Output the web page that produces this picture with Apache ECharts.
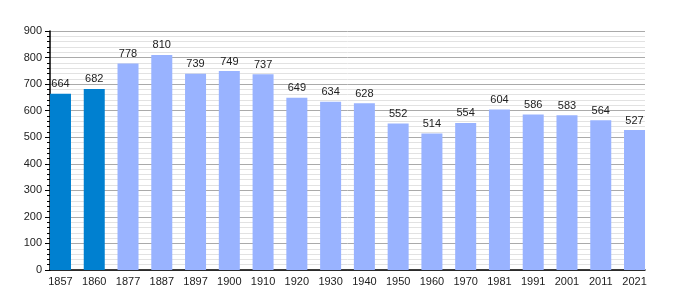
<!DOCTYPE html>
<html><head><meta charset="utf-8">
<script src="https://cdn.jsdelivr.net/npm/echarts@6/dist/echarts.min.js"></script>
<style>html,body{margin:0;padding:0;background:#fff}#c{width:675px;height:300px}</style>
</head><body><div id="c"></div>
<script>
const years = ['1857','1860','1877','1887','1897','1900','1910','1920','1930','1940','1950','1960','1970','1981','1991','2001','2011','2021'];
const population = [664,682,778,810,739,749,737,649,634,628,552,514,554,604,586,583,564,527];
const yTicks = {min:0, max:900, interval:100};

const chart = echarts.init(document.getElementById('c'));
const font = 'Liberation Sans, Arial, sans-serif';
chart.setOption({
  animation:false,
  grid:[
    {left:50,right:30,top:31,bottom:30},
    {left:43.6,right:23.6,top:31,bottom:30}
  ],
  xAxis:[
    {gridIndex:0,type:'value',min:0,max:1,axisLine:{show:true,onZero:false,lineStyle:{color:'#000',width:1.5}},axisTick:{show:false},axisLabel:{show:false},splitLine:{show:false}},
    {gridIndex:1,type:'category',data:years,axisLine:{show:false},axisTick:{show:false},
     axisLabel:{color:'#222',fontSize:11,fontFamily:font,margin:6,interval:0}}
  ],
  yAxis:[
    {gridIndex:0,type:'value',min:yTicks.min,max:yTicks.max,interval:yTicks.interval,
     axisLine:{show:true,lineStyle:{color:'#000',width:1.5}},
     axisTick:{show:true,length:5,lineStyle:{color:'#000'}},
     minorTick:{show:true,splitNumber:5,length:3,lineStyle:{color:'#000'}},
     axisLabel:{color:'#222',fontSize:11,fontFamily:font,margin:8},
     splitLine:{show:true,lineStyle:{color:'#aaa',width:1}},
     minorSplitLine:{show:true,lineStyle:{color:'#e2e2e2',width:1}}},
    {gridIndex:1,type:'value',min:yTicks.min,max:yTicks.max,show:false,splitLine:{show:false}}
  ],
  series:[{
    type:'bar',xAxisIndex:1,yAxisIndex:1,barWidth:21,
    data:population,
    itemStyle:{color:p=>p.dataIndex<2?'#0080d0':'#99b3ff'},
    label:{show:true,position:'top',distance:4,color:'#222',fontSize:11,fontFamily:font}
  }]
});
</script></body></html>
